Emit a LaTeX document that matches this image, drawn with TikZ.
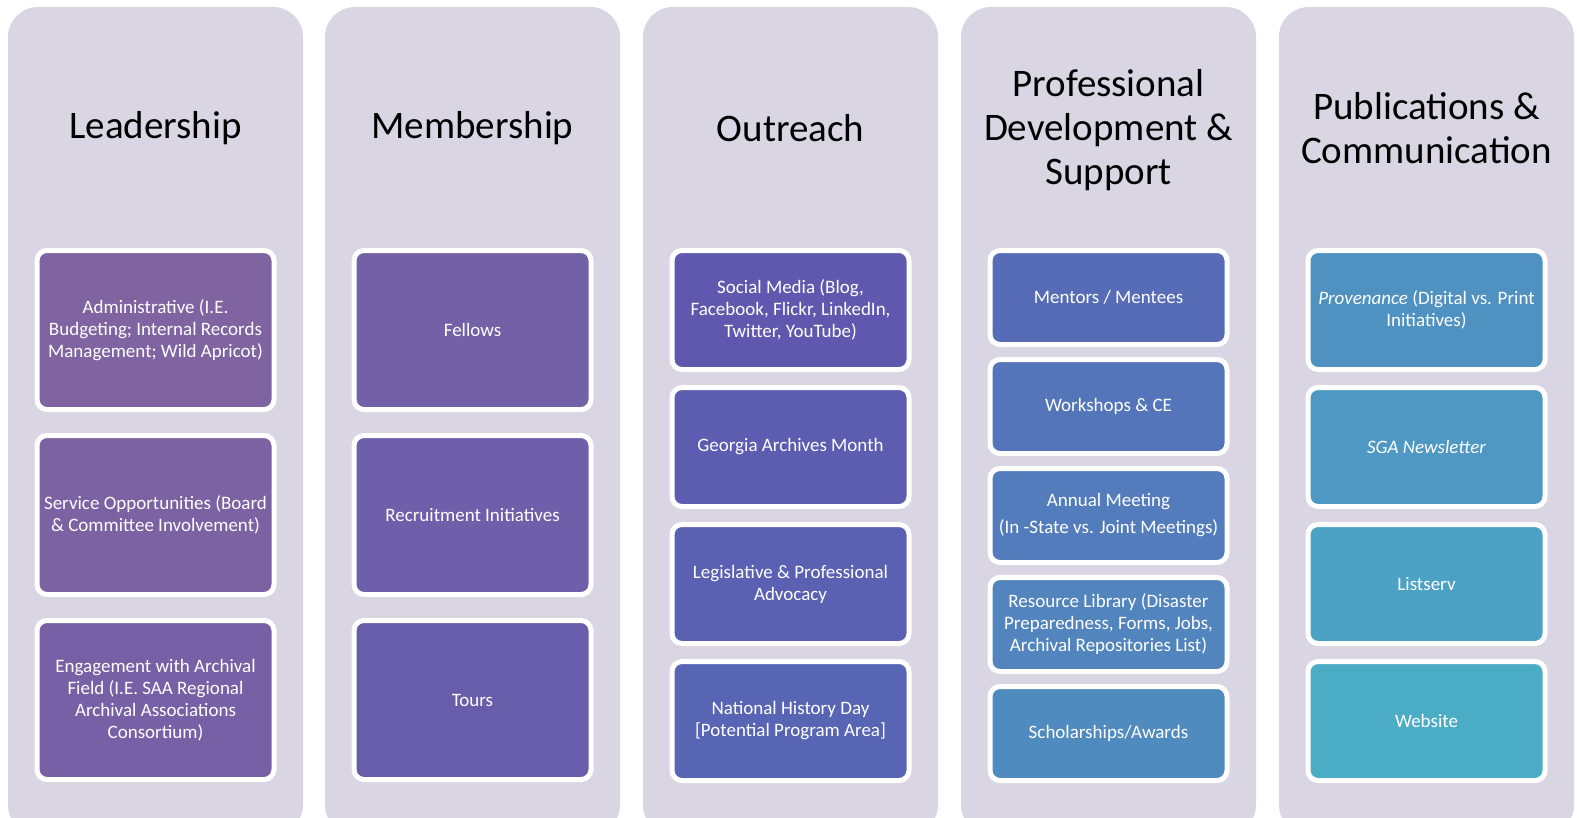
\documentclass[tikz,border=0pt]{standalone}
\usepackage{fontspec}
\setmainfont{Carlito}
% panel and card colours
\definecolor{panelbg}{RGB}{217,213,227}
\definecolor{c01}{RGB}{128,100,162}
\definecolor{c02}{RGB}{124,98,163}
\definecolor{c03}{RGB}{119,96,165}
\definecolor{c04}{RGB}{115,97,168}
\definecolor{c05}{RGB}{109,95,170}
\definecolor{c06}{RGB}{103,93,171}
\definecolor{c07}{RGB}{96,88,175}
\definecolor{c08}{RGB}{92,92,177}
\definecolor{c09}{RGB}{90,96,178}
\definecolor{c10}{RGB}{88,101,180}
\definecolor{c11}{RGB}{86,108,182}
\definecolor{c12}{RGB}{84,117,185}
\definecolor{c13}{RGB}{83,124,188}
\definecolor{c14}{RGB}{82,132,190}
\definecolor{c15}{RGB}{80,139,192}
\definecolor{c16}{RGB}{79,145,193}
\definecolor{c17}{RGB}{78,152,195}
\definecolor{c18}{RGB}{76,162,197}
\definecolor{c19}{RGB}{75,172,198}
\begin{document}
\begin{tikzpicture}[x=1pt,y=-1pt,
  panel/.style={fill=panelbg, rounded corners=30pt},
  heading/.style={font=\fontsize{39}{44}\selectfont, align=center, text=black, inner sep=0pt},
  card/.style={draw=white, line width=5pt, rounded corners=10pt, minimum width=237pt,
    align=center, text=white, inner sep=0pt, font=\fontsize{19}{22}\selectfont},
  tall/.style={card, minimum height=159pt},
  mid/.style={card, minimum height=119pt},
  short/.style={card, minimum height=94pt}]
\useasboundingbox (0,0) rectangle (1579,817);
\clip (0,0) rectangle (1579,817);
\fill[white] (0,0) rectangle (1579,817);

% five column panels
\fill[panel] (8,7) rectangle (303,835);
\fill[panel] (325,7) rectangle (620,835);
\fill[panel] (643,7) rectangle (938,835);
\fill[panel] (961,7) rectangle (1256,835);
\fill[panel] (1279,7) rectangle (1574,835);

% headings
\node[heading] (hA) at (155.5,128) {Leadership};
\node[heading] (hB) at (472.5,128) {Membership};
\node[heading] (hC) at (790.5,128) {Outreach};
\node[heading] (hD) at (1108.5,130) {Professional\\Development \&\\Support};
\node[heading] (hE) at (1426.5,128) {Publications \&\\Communication};

% Leadership
\node[tall, fill=c01] (a1) at (155.5,330) {Administrative (I.E.\\Budgeting; Internal Records\\Management; Wild Apricot)};
\node[tall, fill=c02] (a2) at (155.5,515) {Service Opportunities (Board\\\& Committee Involvement)};
\node[tall, fill=c03] (a3) at (155.5,700) {Engagement with Archival\\Field (I.E. SAA Regional\\Archival Associations\\Consortium)};

% Membership
\node[tall, fill=c04] (b1) at (472.5,330) {Fellows};
\node[tall, fill=c05] (b2) at (472.5,515) {Recruitment Initiatives};
\node[tall, fill=c06] (b3) at (472.5,700) {Tours};

% Outreach
\node[mid, fill=c07] (c1) at (790.5,310) {Social Media (Blog,\\Facebook, Flickr, LinkedIn,\\Twitter, YouTube)};
\node[mid, fill=c08] (c2) at (790.5,447) {Georgia Archives Month};
\node[mid, fill=c09] (c3) at (790.5,584) {Legislative \& Professional\\Advocacy};
\node[mid, fill=c10] (c4) at (790.5,721) {National History Day\\{[}Potential Program Area{]}};

% Professional Development & Support
\node[short, fill=c11] (d1) at (1108.5,297.5) {Mentors / Mentees};
\node[short, fill=c12] (d2) at (1108.5,406.5) {Workshops \& CE};
\node[short, fill=c13] (d3) at (1108.5,515.5) {Annual Meeting\\[5pt](In -State vs. Joint Meetings)};
\node[short, fill=c14] (d4) at (1108.5,624.5) {Resource Library (Disaster\\Preparedness, Forms, Jobs,\\Archival Repositories List)};
\node[short, fill=c15] (d5) at (1108.5,733.5) {Scholarships/Awards};

% Publications & Communication
\node[mid, fill=c16] (e1) at (1426.5,310) {\textit{Provenance} (Digital vs. Print\\Initiatives)};
\node[mid, fill=c17] (e2) at (1426.5,447) {\textit{SGA Newsletter}};
\node[mid, fill=c18] (e3) at (1426.5,584) {Listserv};
\node[mid, fill=c19] (e4) at (1426.5,721) {Website};
\end{tikzpicture}
\end{document}
